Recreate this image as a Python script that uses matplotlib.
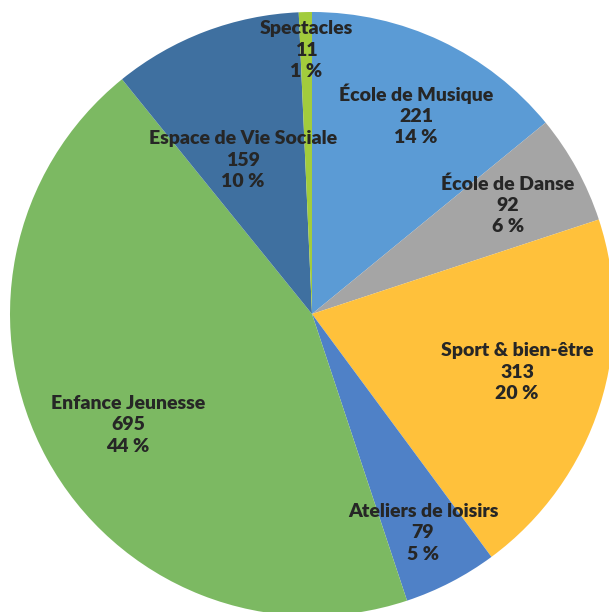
import numpy as np
import matplotlib
matplotlib.use("Agg")
import matplotlib.pyplot as plt

labels = ["École de Musique", "École de Danse", "Sport & bien-être",
          "Ateliers de loisirs", "Enfance Jeunesse", "Espace de Vie Sociale",
          "Spectacles"]
values = [221, 92, 313, 79, 695, 159, 11]
percents = ["14 %", "6 %", "20 %", "5 %", "44 %", "10 %", "1 %"]
colors = ["#5b9bd5", "#a5a5a5", "#ffc13b", "#4f81c7", "#7cb962", "#3f70a0", "#a2cc3c"]
# label positions (pixels in the image)
label_xy = [(416, 115), (508, 205), (517, 372), (423, 533), (128, 425),
            (243, 160), (306, 50)]

W, H = 609, 612
fig = plt.figure(figsize=(W / 100, H / 100), dpi=100)
ax = fig.add_axes([0, 0, 1, 1])

cx, cy, r = 312, H - 314, 302
ax.pie(values, colors=colors, startangle=90, counterclock=False,
       center=(cx, cy), radius=r, frame=True,
       wedgeprops=dict(linewidth=0))
ax.set_xlim(0, W)
ax.set_ylim(0, H)
ax.set_aspect("equal")
ax.axis("off")

for lab, v, p, (x, y) in zip(labels, values, percents, label_xy):
    ax.text(x, H - y, f"{lab}\n{v}\n{p}", ha="center", va="center",
            fontsize=14, fontweight="heavy", color="#262626",
            family=["Lato", "DejaVu Sans"], linespacing=1.3)

fig.savefig("out.png", dpi=100)
